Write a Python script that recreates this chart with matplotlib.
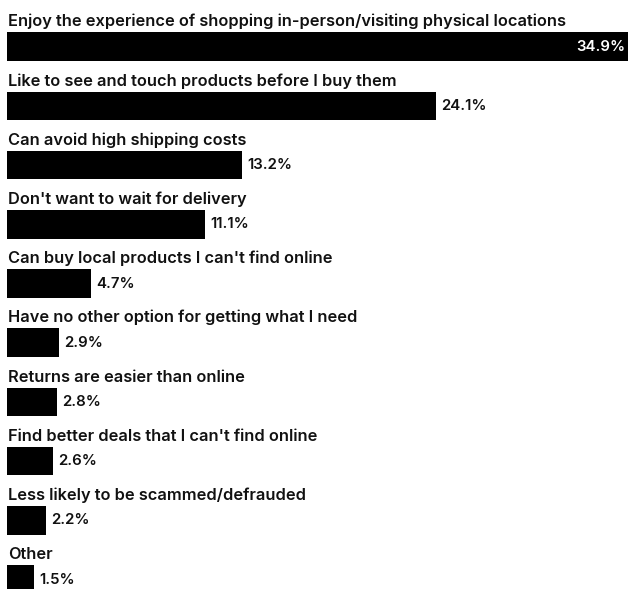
import matplotlib.pyplot as plt

labels = [
    "Enjoy the experience of shopping in-person/visiting physical locations",
    "Like to see and touch products before I buy them",
    "Can avoid high shipping costs",
    "Don't want to wait for delivery",
    "Can buy local products I can't find online",
    "Have no other option for getting what I need",
    "Returns are easier than online",
    "Find better deals that I can't find online",
    "Less likely to be scammed/defrauded",
    "Other",
]
values = [34.9, 24.1, 13.2, 11.1, 4.7, 2.9, 2.8, 2.6, 2.2, 1.5]

plt.rcParams['font.family'] = ['Inter', 'DejaVu Sans']

fig = plt.figure(figsize=(6.28, 5.89), dpi=100)
ax = fig.add_axes([0, 0, 1, 1])

px = 17.8          # pixels per percent
left = 7           # left margin in pixels
step = 59.2        # row spacing in pixels
first = 46.7       # centre of first bar in pixels
bh = 28.7          # bar height in pixels

ax.set_xlim(-left / px, (628 - left) / px)
ax.set_ylim(589, 0)
ax.axis('off')

for i, (lab, v) in enumerate(zip(labels, values)):
    yc = first + i * step
    ax.barh(yc, v, height=bh, color='black', left=0)
    ax.text(0.05, yc - bh / 2 - 6, lab, fontsize=11.8, fontweight='semibold',
            color='#111111', va='baseline', ha='left')
    if i == 0:
        ax.text(v - 0.15, yc, f"{v}%", fontsize=10.8, fontweight='semibold',
                color='white', va='center', ha='right')
    else:
        ax.text(v + 0.3, yc, f"{v}%", fontsize=10.8, fontweight='semibold',
                color='#111111', va='center', ha='left')

fig.savefig('out.png', dpi=100)
